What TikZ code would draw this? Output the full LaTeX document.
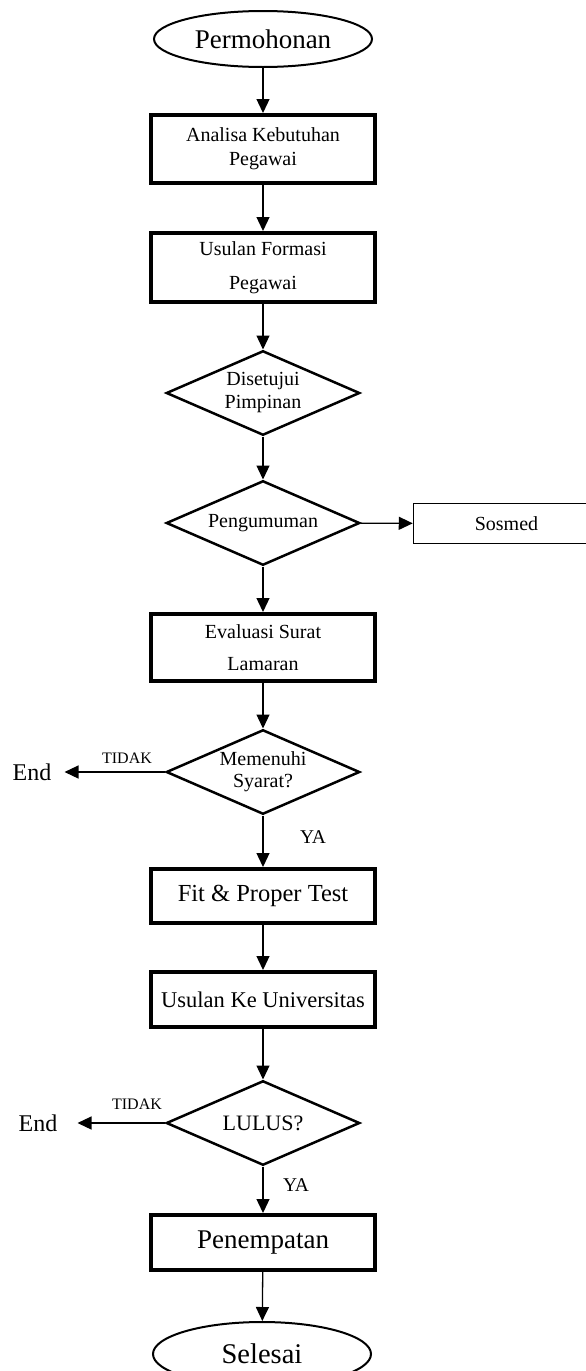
\documentclass[tikz,border=0pt]{standalone}
\usepackage{fontspec}
\setmainfont{Liberation Serif}
\usetikzlibrary{shapes.geometric,arrows.meta}
\begin{document}
\begin{tikzpicture}[x=1pt,y=-1pt,
 proc/.style={draw, line width=4pt, minimum width=224pt, inner sep=0pt, align=center, font=\fontsize{20}{24}\selectfont},
 dec/.style={draw, diamond, aspect=2.25, line width=2.5pt, minimum width=193.5pt, minimum height=84.5pt, inner sep=0pt, align=center, font=\fontsize{20}{23}\selectfont},
 term/.style={draw, ellipse, line width=2pt, minimum width=218pt, inner sep=0pt},
 conn/.style={line width=1.3pt, -{Triangle[length=14pt,width=13pt]}},
 lbl/.style={inner sep=0pt}
]
\useasboundingbox (0,0) rectangle (586,1371);

\node[term, minimum height=56pt, font=\fontsize{27}{30}\selectfont] (start) at (263,39) {Permohonan};
\node[proc, minimum height=68pt] (ana) at (263,149) {Analisa Kebutuhan\\Pegawai};
\node[proc, minimum height=69pt] (usf) at (263,267.5) {Usulan Formasi\\[10pt]Pegawai};
\node[dec] (dis) at (263,393) {Disetujui\\Pimpinan};
\node[dec] (pen) at (263,523) {Pengumuman};
\node[draw, line width=1.5pt, minimum width=186pt, minimum height=40pt, inner sep=0pt, font=\fontsize{20}{24}\selectfont] (sos) at (506.5,523.5) {Sosmed};
\node[proc, minimum height=67pt] (eva) at (263,647.5) {Evaluasi Surat\\[8pt]Lamaran};
\node[dec, font=\fontsize{20}{22}\selectfont] (mem) at (263,772) {Memenuhi\\Syarat?};
\node[proc, minimum height=54pt, font=\fontsize{24.5}{28}\selectfont] (fit) at (263,896) {Fit \& Proper Test};
\node[proc, minimum height=55pt, font=\fontsize{22.5}{26}\selectfont] (uku) at (263,999.5) {Usulan Ke Universitas};
\node[dec, font=\fontsize{22}{26}\selectfont] (lul) at (263,1123) {LULUS?};
\node[proc, minimum height=55pt, font=\fontsize{27}{30}\selectfont] (pnp) at (263,1242.5) {Penempatan};
\node[term, minimum height=64pt, font=\fontsize{28.5}{32}\selectfont] (fin) at (262,1354) {Selesai};

\node[lbl, font=\fontsize{24}{28}\selectfont] (e1) at (32,772) {End};
\node[lbl, font=\fontsize{24}{28}\selectfont] (e2) at (38,1123) {End};
\node[lbl, font=\fontsize{16}{19}\selectfont] (t1) at (127,758) {TIDAK};
\node[lbl, font=\fontsize{16}{19}\selectfont] (t2) at (137,1104) {TIDAK};
\node[lbl, font=\fontsize{19.5}{22}\selectfont] (y1) at (313,837) {YA};
\node[lbl, font=\fontsize{19.5}{22}\selectfont] (y2) at (296,1185) {YA};

\draw[conn] (start) -- (ana);
\draw[conn] (ana) -- (usf);
\draw[conn] (usf) -- (dis);
\draw[conn] (dis) -- (pen);
\draw[conn] (pen) -- (sos);
\draw[conn] (pen) -- (eva);
\draw[conn] (eva) -- (mem);
\draw[conn, shorten >=13pt] (mem) -- (e1);
\draw[conn] (mem) -- (fit);
\draw[conn] (fit) -- (uku);
\draw[conn] (uku) -- (lul);
\draw[conn, shorten >=20pt] (lul) -- (e2);
\draw[conn] (lul) -- (pnp);
\draw[conn] (pnp) -- (fin);
\end{tikzpicture}
\end{document}
